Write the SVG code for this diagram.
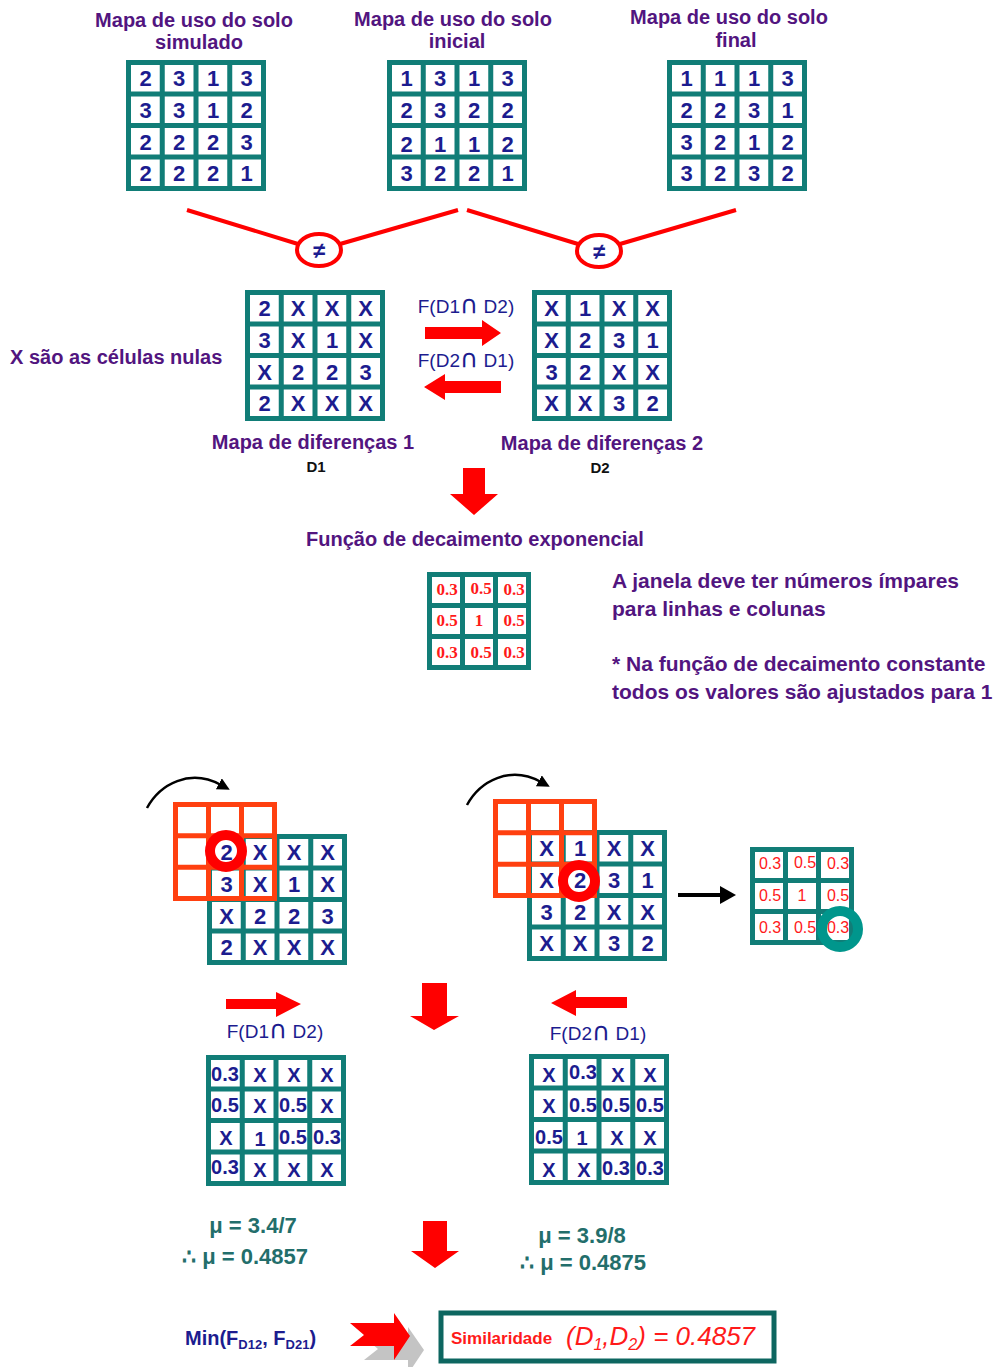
<svg xmlns="http://www.w3.org/2000/svg" xmlns:xlink="http://www.w3.org/1999/xlink" width="995" height="1367" viewBox="0 0 995 1367">
<style>
.t{font-family:"Liberation Sans",Arial,sans-serif;font-weight:bold;font-size:20px;fill:#52157f;text-anchor:middle}
.tl{font-family:"Liberation Sans",Arial,sans-serif;font-weight:bold;font-size:21px;fill:#52157f}
.n{font-family:"Liberation Sans",Arial,sans-serif;font-weight:bold;font-size:22px;fill:#1c1c8f;text-anchor:middle}
.v{font-family:"Liberation Sans",Arial,sans-serif;font-weight:bold;font-size:20px;fill:#1c1c8f;text-anchor:middle}
.f{font-family:"Liberation Sans",Arial,sans-serif;font-size:19px;fill:#1c1c8f;text-anchor:middle}
.cap{font-family:"DejaVu Sans",sans-serif;font-size:25px}
.rt{font-family:"Liberation Serif","Times New Roman",serif;font-weight:bold;font-size:17px;fill:#ff1a1a;text-anchor:middle}
.rs{font-family:"Liberation Sans",Arial,sans-serif;font-size:16px;fill:#ff1a1a;text-anchor:middle}
.mu{font-family:"Liberation Sans",Arial,sans-serif;font-weight:bold;font-size:22px;fill:#236e6b;text-anchor:middle}
.dk{font-family:"Liberation Sans",Arial,sans-serif;font-weight:bold;font-size:15px;fill:#111;text-anchor:middle}
.ra{fill:#ff0000}
.rl{stroke:#ff0000;stroke-width:4;fill:none}
</style>
<defs>
<g id="g4"><rect x="2.5" y="2.5" width="135" height="126" fill="#fff" stroke="#117d77" stroke-width="5"/><path d="M36.25,2.5V128.5M70,2.5V128.5M103.75,2.5V128.5M2.5,34H137.5M2.5,65.5H137.5M2.5,97H137.5" stroke="#117d77" stroke-width="5" fill="none"/></g>
<g id="g3"><rect x="2.5" y="2.5" width="99" height="93" fill="#fff" stroke="#117d77" stroke-width="5"/><path d="M35.5,2.5V95.5M68.5,2.5V95.5M2.5,33.5H101.5M2.5,64.5H101.5" stroke="#117d77" stroke-width="5" fill="none"/></g>
<g id="o3"><rect x="2.5" y="2.5" width="99" height="94" fill="none" stroke="#ff4010" stroke-width="5"/><path d="M35.5,2.5V96.5M68.5,2.5V96.5M2.5,33.8H101.5M2.5,65.2H101.5" stroke="#ff4010" stroke-width="5" fill="none"/></g>
<marker id="bh" viewBox="0 0 10 10" refX="2" refY="5" markerWidth="5" markerHeight="5" orient="auto"><path d="M0,0L10,5L0,10z" fill="#000"/></marker>
</defs>

<g id="mapa-simulado">
<text class="t" x="194" y="27">Mapa de uso do solo</text>
<text class="t" x="199" y="49">simulado</text>
<g transform="translate(126,60)"><use xlink:href="#g4"/>
<text class="n" x="19.5" y="26">2</text><text class="n" x="53" y="26">3</text><text class="n" x="87" y="26">1</text><text class="n" x="120.5" y="26">3</text>
<text class="n" x="19.5" y="58">3</text><text class="n" x="53" y="58">3</text><text class="n" x="87" y="58">1</text><text class="n" x="120.5" y="58">2</text>
<text class="n" x="19.5" y="89.5">2</text><text class="n" x="53" y="89.5">2</text><text class="n" x="87" y="89.5">2</text><text class="n" x="120.5" y="89.5">3</text>
<text class="n" x="19.5" y="121">2</text><text class="n" x="53" y="121">2</text><text class="n" x="87" y="121">2</text><text class="n" x="120.5" y="121">1</text>
</g></g>

<g id="mapa-inicial">
<text class="t" x="453" y="26">Mapa de uso do solo</text>
<text class="t" x="457" y="48">inicial</text>
<g transform="translate(387,60)"><use xlink:href="#g4"/>
<text class="n" x="19.5" y="26">1</text><text class="n" x="53" y="26">3</text><text class="n" x="87" y="26">1</text><text class="n" x="120.5" y="26">3</text>
<text class="n" x="19.5" y="58">2</text><text class="n" x="53" y="58">3</text><text class="n" x="87" y="58">2</text><text class="n" x="120.5" y="58">2</text>
<text class="n" x="19.5" y="92">2</text><text class="n" x="53" y="92">1</text><text class="n" x="87" y="92">1</text><text class="n" x="120.5" y="92">2</text>
<text class="n" x="19.5" y="121">3</text><text class="n" x="53" y="121">2</text><text class="n" x="87" y="121">2</text><text class="n" x="120.5" y="121">1</text>
</g></g>

<g id="mapa-final">
<text class="t" x="729" y="24">Mapa de uso do solo</text>
<text class="t" x="736" y="47">final</text>
<g transform="translate(667,60)"><use xlink:href="#g4"/>
<text class="n" x="19.5" y="26">1</text><text class="n" x="53" y="26">1</text><text class="n" x="87" y="26">1</text><text class="n" x="120.5" y="26">3</text>
<text class="n" x="19.5" y="58">2</text><text class="n" x="53" y="58">2</text><text class="n" x="87" y="58">3</text><text class="n" x="120.5" y="58">1</text>
<text class="n" x="19.5" y="89.5">3</text><text class="n" x="53" y="89.5">2</text><text class="n" x="87" y="89.5">1</text><text class="n" x="120.5" y="89.5">2</text>
<text class="n" x="19.5" y="121">3</text><text class="n" x="53" y="121">2</text><text class="n" x="87" y="121">3</text><text class="n" x="120.5" y="121">2</text>
</g></g>

<g id="connectors">
<path class="rl" d="M187,210L298,244M340,244L458,210M467,210L578,244M620,244L736,210"/>
<path class="ra" d="M425,327H482V320L501,333L482,346V339H425Z"/>
<path class="ra" d="M501,381H445V374L424,387L445,400V393H501Z"/>
<path class="ra" d="M463,468H485V494H498L474,515L450,494H463Z"/>
<path d="M147,808C160,784 190,768 221,785" stroke="#000" stroke-width="2.5" fill="none" marker-end="url(#bh)"/>
<path d="M467,805C480,781 510,765 541,782" stroke="#000" stroke-width="2.5" fill="none" marker-end="url(#bh)"/>
<path d="M678,895H722" stroke="#000" stroke-width="4"/><path d="M720,886L736,895L720,904Z" fill="#000"/>
<path class="ra" d="M226,999H276V992L301,1004L276,1017V1009H226Z"/>
<path class="ra" d="M422,983H447V1016H459L434,1030L410,1016H422Z"/>
<path class="ra" d="M627,997H576V990L551,1003L576,1016V1008H627Z"/>
<path class="ra" d="M423,1221H447V1251H459L435,1268L411,1251H423Z"/>
<path d="M364,1337H408V1327L424,1350L408,1374V1360H364L378,1349Z" fill="#c4c4c4"/>
<path class="ra" d="M350,1323H394V1313L410,1336L394,1360V1346H350L364,1335Z"/>
</g>

<g id="diferente-1"><ellipse cx="319" cy="250" rx="22" ry="16" fill="#fff" stroke="#ff0000" stroke-width="4"/><text class="n" x="319" y="258">≠</text></g>
<g id="diferente-2"><ellipse cx="599" cy="251" rx="22" ry="16" fill="#fff" stroke="#ff0000" stroke-width="4"/><text class="n" x="599" y="259">≠</text></g>

<g id="nota-nulas"><text class="tl" x="10" y="364" style="font-size:20px">X são as células nulas</text></g>

<g id="mapa-dif-1">
<g transform="translate(245,290)"><use xlink:href="#g4"/>
<text class="n" x="19.5" y="26">2</text><text class="n" x="53" y="26">X</text><text class="n" x="87" y="26">X</text><text class="n" x="120.5" y="26">X</text>
<text class="n" x="19.5" y="58">3</text><text class="n" x="53" y="58">X</text><text class="n" x="87" y="58">1</text><text class="n" x="120.5" y="58">X</text>
<text class="n" x="19.5" y="89.5">X</text><text class="n" x="53" y="89.5">2</text><text class="n" x="87" y="89.5">2</text><text class="n" x="120.5" y="89.5">3</text>
<text class="n" x="19.5" y="121">2</text><text class="n" x="53" y="121">X</text><text class="n" x="87" y="121">X</text><text class="n" x="120.5" y="121">X</text>
</g>
<text class="t" x="313" y="449">Mapa de diferenças 1</text>
<text class="dk" x="316" y="472">D1</text>
</g>

<g id="mapa-dif-2">
<g transform="translate(532,290)"><use xlink:href="#g4"/>
<text class="n" x="19.5" y="26">X</text><text class="n" x="53" y="26">1</text><text class="n" x="87" y="26">X</text><text class="n" x="120.5" y="26">X</text>
<text class="n" x="19.5" y="58">X</text><text class="n" x="53" y="58">2</text><text class="n" x="87" y="58">3</text><text class="n" x="120.5" y="58">1</text>
<text class="n" x="19.5" y="89.5">3</text><text class="n" x="53" y="89.5">2</text><text class="n" x="87" y="89.5">X</text><text class="n" x="120.5" y="89.5">X</text>
<text class="n" x="19.5" y="121">X</text><text class="n" x="53" y="121">X</text><text class="n" x="87" y="121">3</text><text class="n" x="120.5" y="121">2</text>
</g>
<text class="t" x="602" y="450">Mapa de diferenças 2</text>
<text class="dk" x="600" y="473">D2</text>
</g>

<g id="rotulos-f">
<text class="f" x="466" y="313">F(D1<tspan class="cap">∩</tspan> D2)</text>
<text class="f" x="466" y="367">F(D2<tspan class="cap">∩</tspan> D1)</text>
</g>

<g id="funcao-decaimento">
<text class="t" x="475" y="546">Função de decaimento exponencial</text>
<g transform="translate(427,572)"><use xlink:href="#g3"/>
<text class="rt" x="20" y="23">0.3</text><text class="rt" x="54" y="22">0.5</text><text class="rt" x="87" y="23">0.3</text>
<text class="rt" x="20" y="54">0.5</text><text class="rt" x="52" y="54">1</text><text class="rt" x="87" y="54">0.5</text>
<text class="rt" x="20" y="86">0.3</text><text class="rt" x="54" y="86">0.5</text><text class="rt" x="87" y="86">0.3</text>
</g></g>

<g id="nota-janela">
<text class="tl" x="612" y="588">A janela deve ter números ímpares</text>
<text class="tl" x="612" y="616">para linhas e colunas</text>
<text class="tl" x="612" y="671">* Na função de decaimento constante</text>
<text class="tl" x="612" y="699">todos os valores são ajustados para 1</text>
</g>

<g id="janela-d1">
<g transform="translate(207,834)"><use xlink:href="#g4"/>
<text class="n" x="19.5" y="26">2</text><text class="n" x="53" y="26">X</text><text class="n" x="87" y="26">X</text><text class="n" x="120.5" y="26">X</text>
<text class="n" x="19.5" y="58">3</text><text class="n" x="53" y="58">X</text><text class="n" x="87" y="58">1</text><text class="n" x="120.5" y="58">X</text>
<text class="n" x="19.5" y="89.5">X</text><text class="n" x="53" y="89.5">2</text><text class="n" x="87" y="89.5">2</text><text class="n" x="120.5" y="89.5">3</text>
<text class="n" x="19.5" y="121">2</text><text class="n" x="53" y="121">X</text><text class="n" x="87" y="121">X</text><text class="n" x="120.5" y="121">X</text>
</g>
<use xlink:href="#o3" x="173" y="802"/>
<circle cx="226" cy="851" r="16" fill="none" stroke="#ff0000" stroke-width="10"/>
</g>

<g id="janela-d2">
<g transform="translate(527,830)"><use xlink:href="#g4"/>
<text class="n" x="19.5" y="26">X</text><text class="n" x="53" y="26">1</text><text class="n" x="87" y="26">X</text><text class="n" x="120.5" y="26">X</text>
<text class="n" x="19.5" y="58">X</text><text class="n" x="53" y="58">2</text><text class="n" x="87" y="58">3</text><text class="n" x="120.5" y="58">1</text>
<text class="n" x="19.5" y="89.5">3</text><text class="n" x="53" y="89.5">2</text><text class="n" x="87" y="89.5">X</text><text class="n" x="120.5" y="89.5">X</text>
<text class="n" x="19.5" y="121">X</text><text class="n" x="53" y="121">X</text><text class="n" x="87" y="121">3</text><text class="n" x="120.5" y="121">2</text>
</g>
<use xlink:href="#o3" x="493" y="799"/>
<circle cx="579" cy="881" r="16" fill="none" stroke="#ff0000" stroke-width="10"/>
</g>

<g id="janela-pesos">
<g transform="translate(750,847)"><use xlink:href="#g3"/>
<text class="rs" x="20" y="22">0.3</text><text class="rs" x="55" y="21">0.5</text><text class="rs" x="88" y="22">0.3</text>
<text class="rs" x="20" y="54">0.5</text><text class="rs" x="52" y="54">1</text><text class="rs" x="88" y="54">0.5</text>
<text class="rs" x="20" y="86">0.3</text><text class="rs" x="55" y="86">0.5</text><text class="rs" x="88" y="86">0.3</text>
</g>
<circle cx="840" cy="929" r="18" fill="none" stroke="#00968c" stroke-width="10"/>
</g>

<g id="resultado-f12">
<text class="f" x="275" y="1038">F(D1<tspan class="cap">∩</tspan> D2)</text>
<g transform="translate(206,1055)"><use xlink:href="#g4"/>
<text class="v" x="19" y="26">0.3</text><text class="v" x="54" y="27">X</text><text class="v" x="88" y="27">X</text><text class="v" x="121" y="27">X</text>
<text class="v" x="19" y="57">0.5</text><text class="v" x="54" y="58">X</text><text class="v" x="87" y="57">0.5</text><text class="v" x="121" y="58">X</text>
<text class="v" x="20" y="90">X</text><text class="v" x="54" y="91">1</text><text class="v" x="87" y="89">0.5</text><text class="v" x="121" y="89">0.3</text>
<text class="v" x="19" y="119">0.3</text><text class="v" x="54" y="122">X</text><text class="v" x="88" y="122">X</text><text class="v" x="121" y="122">X</text>
</g></g>

<g id="resultado-f21">
<text class="f" x="598" y="1040">F(D2<tspan class="cap">∩</tspan> D1)</text>
<g transform="translate(529,1054)"><use xlink:href="#g4"/>
<text class="v" x="20" y="28">X</text><text class="v" x="54" y="25">0.3</text><text class="v" x="89" y="28">X</text><text class="v" x="121" y="28">X</text>
<text class="v" x="20" y="59">X</text><text class="v" x="54" y="58">0.5</text><text class="v" x="87" y="58">0.5</text><text class="v" x="121" y="58">0.5</text>
<text class="v" x="20" y="90">0.5</text><text class="v" x="53" y="91">1</text><text class="v" x="88" y="91">X</text><text class="v" x="121" y="91">X</text>
<text class="v" x="20" y="123">X</text><text class="v" x="55" y="123">X</text><text class="v" x="87" y="121">0.3</text><text class="v" x="121" y="121">0.3</text>
</g></g>

<g id="media-1">
<text class="mu" x="253" y="1233">μ = 3.4/7</text>
<text class="mu" x="245" y="1264">∴  μ = 0.4857</text>
</g>
<g id="media-2">
<text class="mu" x="582" y="1243">μ = 3.9/8</text>
<text class="mu" x="583" y="1270">∴  μ = 0.4875</text>
</g>

<g id="minimo">
<text x="185" y="1345" style="font-family:'Liberation Sans',Arial,sans-serif;font-weight:bold;font-size:20px;fill:#1c1c8f">Min(F<tspan dy="4" style="font-size:13px">D12</tspan><tspan dy="-4">, F</tspan><tspan dy="4" style="font-size:13px">D21</tspan><tspan dy="-4">)</tspan></text>
</g>

<g id="similaridade">
<rect x="441" y="1313" width="333" height="48" fill="#fff" stroke="#0d6660" stroke-width="5"/>
<text x="451" y="1344" style="font-family:'Liberation Sans',Arial,sans-serif;font-weight:bold;font-size:17px;fill:#ff1a1a">Similaridade</text>
<text x="566" y="1345" style="font-family:'Liberation Sans',Arial,sans-serif;font-style:italic;font-size:26px;fill:#ff1a1a">(D<tspan dy="5" style="font-size:16px">1</tspan><tspan dy="-5">,D</tspan><tspan dy="5" style="font-size:16px">2</tspan><tspan dy="-5">) = 0.4857</tspan></text>
</g>
</svg>
